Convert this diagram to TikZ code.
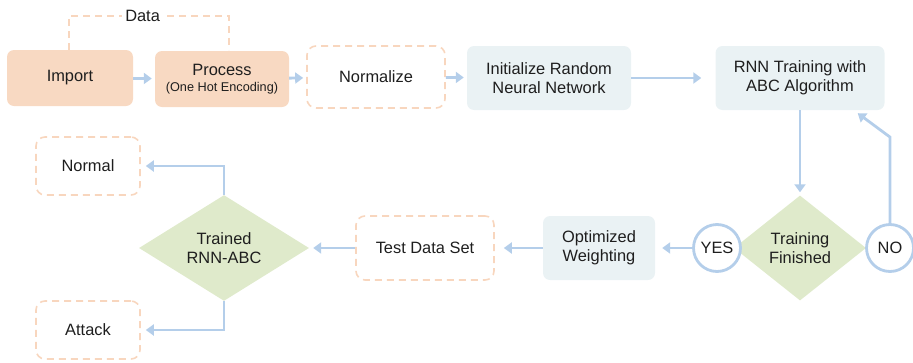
\documentclass[tikz,border=0pt]{standalone}
\usepackage{fontspec}
\setmainfont{Liberation Sans}
\usetikzlibrary{arrows.meta,shapes.geometric}
\definecolor{peachfill}{RGB}{248,217,194}
\definecolor{peachline}{RGB}{248,214,190}
\definecolor{bluefill}{RGB}{234,242,244}
\definecolor{greenfill}{RGB}{223,234,203}
\definecolor{flowblue}{RGB}{180,206,234}
\definecolor{txt}{RGB}{30,30,30}
\begin{document}
\begin{tikzpicture}[x=1pt,y=-1pt,
		every node/.style={font=\fontsize{16.4}{19}\selectfont, text=txt, align=center},
		filledbox/.style={fill=peachfill, rounded corners=7pt, minimum height=56pt},
		dashbox/.style={draw=peachline, line width=1.6pt, dash pattern=on 7pt off 5pt, rounded corners=9pt},
		bluebox/.style={fill=bluefill, rounded corners=7pt, minimum height=64pt},
		decision/.style={diamond, fill=greenfill, inner sep=0pt},
		answer/.style={circle, draw=flowblue, line width=2.8pt, fill=white, minimum size=47pt, inner sep=0pt},
		flow/.style={draw=flowblue, line width=2.8pt, -{Triangle[length=8pt,width=11pt]}, shorten >=3pt}]
		\useasboundingbox (0,0) rectangle (913,362);
		
		\node[filledbox, minimum width=126pt] (imp) at (70,78) {Import};
		\node[filledbox, minimum width=134pt] (proc) at (222,79) {Process\\[-3pt]{\fontsize{12.7}{14}\selectfont(One Hot Encoding)}};
		\node[dashbox, minimum width=138pt, minimum height=62pt] (norm) at (376,77) {Normalize};
		\node[bluebox, minimum width=164pt] (init) at (549,78) {Initialize Random\\Neural Network};
		\node[bluebox, minimum width=169pt] (rnn) at (800,78) {RNN Training with\\ABC Algorithm};
		
		\draw[peachline, line width=1.6pt, dash pattern=on 7pt off 5pt] ([xshift=-1pt]imp.north) -- ++(0,-34) -| ([xshift=7pt]proc.north |- imp.north) node[pos=0.23, fill=white, inner sep=3pt] (data) {Data};
		
		\node[decision, minimum width=132pt, minimum height=105pt] (fin) at (800,248) {Training\\Finished};
		\node[answer] (yes) at (717,248) {YES};
		\node[answer] (no) at (890,248) {NO};
		\node[bluebox, minimum width=112pt] (opt) at (599,248) {Optimized\\Weighting};
		\node[dashbox, minimum width=138pt, minimum height=64pt] (test) at (425,248) {Test Data Set};
		\node[decision, minimum width=170pt, minimum height=105pt] (trn) at (224,248) {Trained\\RNN-ABC};
		\node[dashbox, minimum width=104pt, minimum height=58pt] (normal) at (88,166) {Normal};
		\node[dashbox, minimum width=104pt, minimum height=58pt] (attack) at (88,330) {Attack};
		
		\foreach \a/\b in {imp/proc,proc/norm,norm/init}
		\draw[flow] (\a) -- (\b);
		\draw[flow, shorten >=14pt] (init) -- (rnn);
		\draw[flow] (rnn) -- (fin);
		\draw[flow, shorten >=0pt] (no.north) -- ++(0,-86) -- ([shift={(-27,3)}]rnn.south east);
		\draw[flow, shorten >=7pt] (yes) -- (opt);
		\draw[flow, shorten >=9pt] (opt) -- (test);
		\draw[flow, shorten >=4pt] (test) -- (trn);
		\draw[flow, shorten >=5pt] (trn.north) |- (normal);
		\draw[flow, shorten >=5pt] (trn.south) |- (attack);
	\end{tikzpicture}
\end{document}
